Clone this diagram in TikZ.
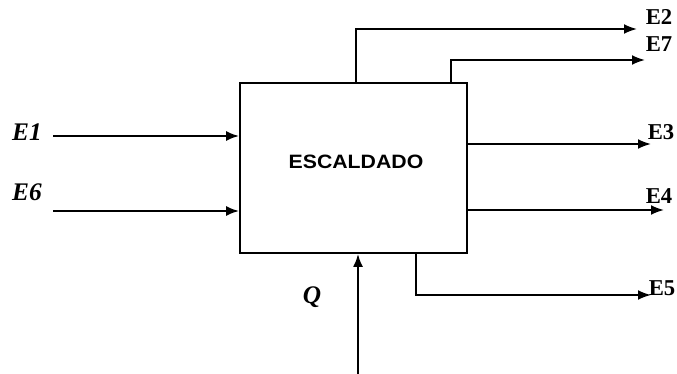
\documentclass[tikz,border=0pt]{standalone}
\usepackage{fontspec}
\setmainfont{Liberation Serif}
\setsansfont{Liberation Sans}
\usetikzlibrary{positioning,arrows.meta,calc}

\begin{document}
\begin{tikzpicture}[
    x=0.75pt, y=-0.75pt,
    flujo/.style={-{Latex[length=3.4mm,width=2.6mm]}, line width=1.4pt},
    proceso/.style={draw, line width=1.4pt, minimum width=170.25pt, minimum height=127.5pt, inner sep=0pt},
    entrada/.style={font=\fontsize{19}{21}\selectfont\bfseries\itshape, inner sep=0pt},
    salida/.style={font=\fontsize{17}{19}\selectfont\bfseries, inner sep=0pt},
]
    \useasboundingbox (0,0) rectangle (677,374);
    \node[proceso] (esc) at (353.5,168) {};
    \node[font=\sffamily\bfseries\fontsize{14.5}{16}\selectfont, xscale=1.1, inner sep=0pt] (tesc) at (356,162) {ESCALDADO};
    % entradas
    \node[entrada] (le1) at (27,132) {E1};
    \node[entrada] (le6) at (27,192) {E6};
    \node[entrada] (lq) at (312,297) {Q};
    \coordinate (e1) at (53,136);
    \coordinate (e6) at (53,211);
    \coordinate (q) at (358,374);
    \draw[flujo] (e1) -- (e1 -| esc.west);
    \draw[flujo] (e6) -- (e6 -| esc.west);
    \draw[flujo] (q) -- (q |- esc.south);
    % salidas
    \node[salida] (le2) at (659,17) {E2};
    \node[salida] (le7) at (659,44) {E7};
    \node[salida] (le3) at (661,132) {E3};
    \node[salida] (le4) at (659,196) {E4};
    \node[salida] (le5) at (662,288) {E5};
    \coordinate (e2) at (637,29);
    \coordinate (e7) at (645,60);
    \coordinate (e3) at (651,144);
    \coordinate (e4) at (664,210);
    \coordinate (e5) at (651,295);
    \draw[flujo] ($(esc.north west)+(117,0)$) |- (e2);
    \draw[flujo] ($(esc.north west)+(212,0)$) |- (e7);
    \draw[flujo] (e3 -| esc.east) -- (e3);
    \draw[flujo] (e4 -| esc.east) -- (e4);
    \draw[flujo] ($(esc.south west)+(177,0)$) |- (e5);
\end{tikzpicture}
\end{document}
